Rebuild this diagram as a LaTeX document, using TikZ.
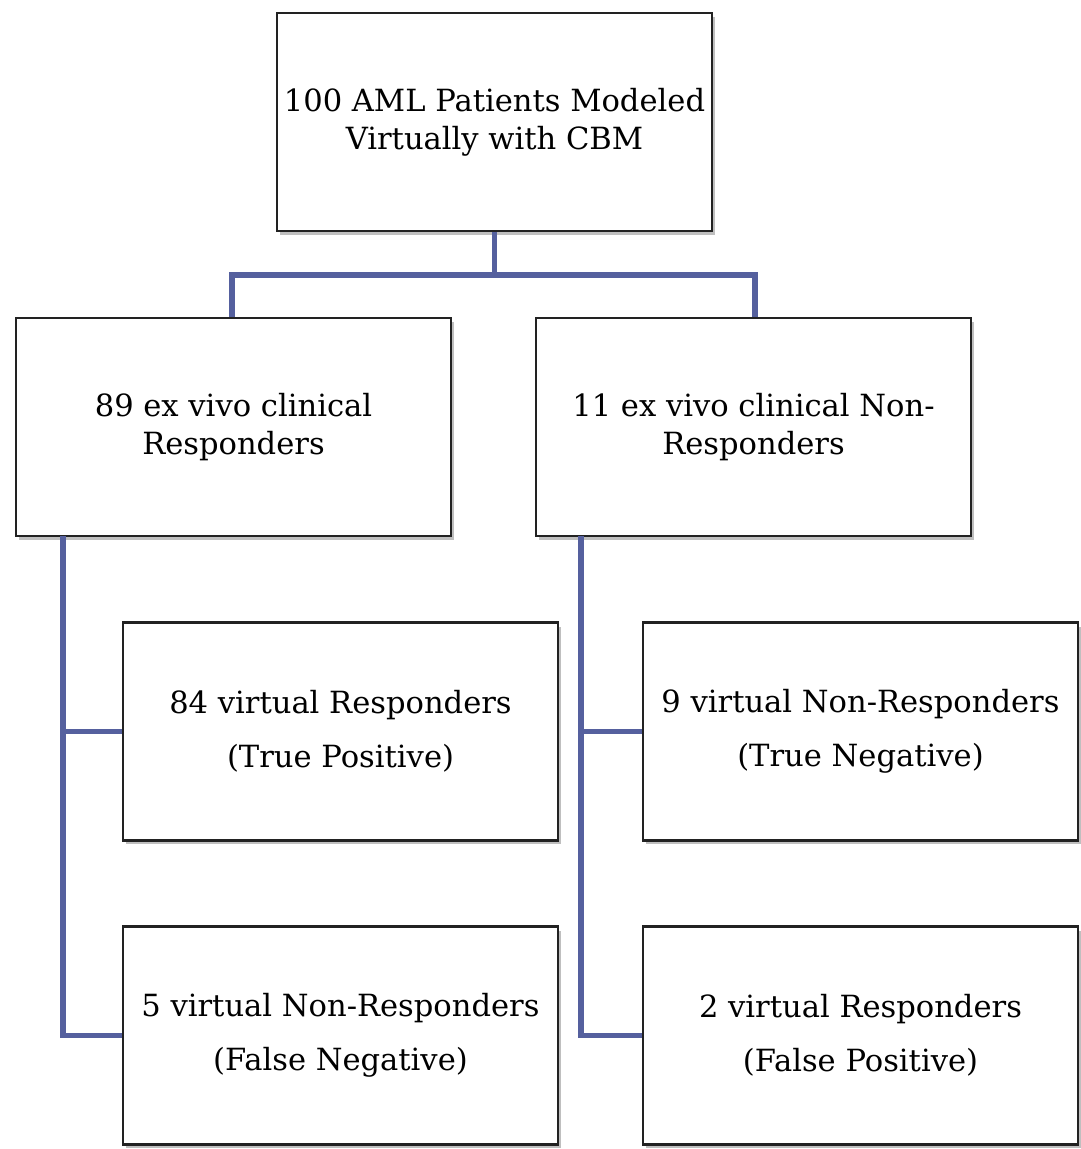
\documentclass[tikz,border=0pt]{standalone}
\usepackage{fontspec}
\setmainfont{DejaVu Serif}
\usetikzlibrary{shadows}
\definecolor{linkblue}{HTML}{55609E}
\definecolor{boxline}{HTML}{222222}
\tikzset{
  box/.style={draw=boxline, line width=1.6pt, fill=white, minimum width=8.7cm, minimum height=4.36cm,
    align=center, inner sep=0pt, font=\fontsize{17.4}{21.5}\selectfont,
    drop shadow={shadow xshift=0.6mm, shadow yshift=-0.8mm, opacity=0.25, fill=black}},
  leafbox/.style={box, font=\fontsize{17.4}{31}\selectfont},
  link/.style={draw=linkblue, line width=3.3pt}
}
\begin{document}
\begin{tikzpicture}[x=0.02cm,y=-0.02cm]
\useasboundingbox[fill=white] (0,0) rectangle (1081,1149);
\node[box] (top) at (494.5,122) {100 AML Patients Modeled\\Virtually with CBM};
\node[box] (L) at (233.5,427) {89 ex vivo clinical\\Responders};
\node[box] (R) at (753.5,427) {11 ex vivo clinical Non-\\Responders};
\node[leafbox] (LA) at (340.5,731.5) {84 virtual Responders\\(True Positive)};
\node[leafbox] (LB) at (340.5,1035.5) {5 virtual Non-Responders\\(False Negative)};
\node[leafbox] (RA) at (860.5,731.5) {9 virtual Non-Responders\\(True Negative)};
\node[leafbox] (RB) at (860.5,1035.5) {2 virtual Responders\\(False Positive)};
\coordinate (lj) at (232,275);
\coordinate (rj) at (755,275);
\coordinate (ls) at (63,536);
\coordinate (rs) at (581,536);
\draw[link] (top.south) -- (top.south |- lj);
\draw[link] (L.north -| lj) -- (lj) -- (rj) -- (R.north -| rj);
\draw[link] (ls) -- (ls |- LB.west) -- (LB.west);
\draw[link] (ls |- LA.west) -- (LA.west);
\draw[link] (rs) -- (rs |- RB.west) -- (RB.west);
\draw[link] (rs |- RA.west) -- (RA.west);
\end{tikzpicture}
\end{document}
